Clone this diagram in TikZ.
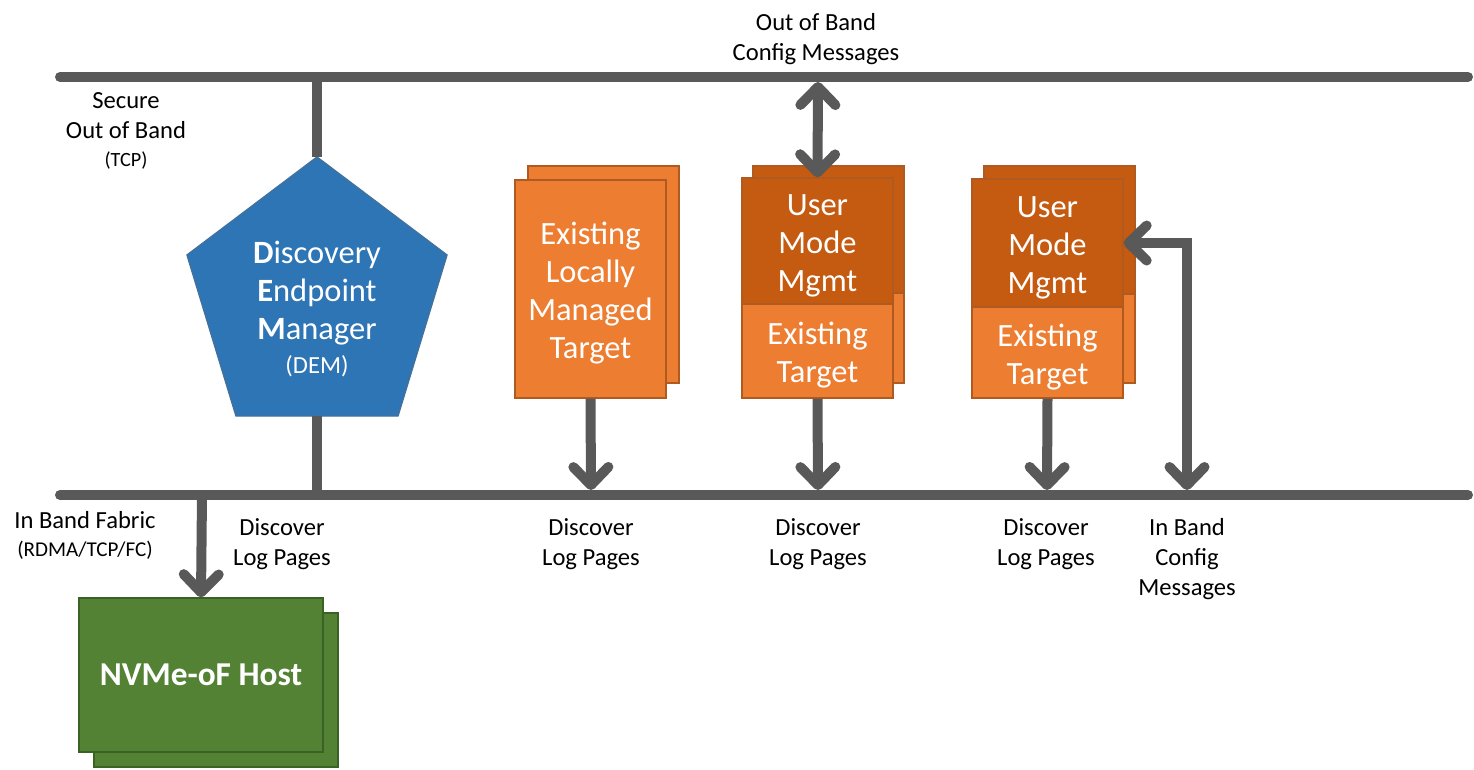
\documentclass[tikz,border=0pt]{standalone}
\usepackage{fontspec}
\setmainfont{Carlito}
\usetikzlibrary{arrows.meta}

\definecolor{busgrey}{HTML}{595959}
\definecolor{demblue}{HTML}{2E75B6}
\definecolor{demline}{HTML}{41719C}
\definecolor{tgtorange}{HTML}{ED7D31}
\definecolor{mgmtorange}{HTML}{C55A11}
\definecolor{tgtline}{HTML}{AE5A21}
\definecolor{hostgreen}{HTML}{548235}
\definecolor{hostline}{HTML}{3B6225}

\newcommand\topgap{\rule{0pt}{17.5pt}}

\tikzset{
  bus/.style={line width=0.2cm, draw=busgrey, line cap=round},
  link/.style={line width=0.2cm, draw=busgrey},
  flow/.style={line width=0.2cm, draw=busgrey, -{Straight Barb[round,length=0.36cm,width=0.7cm]}},
  twoway/.style={line width=0.2cm, draw=busgrey, {Straight Barb[round,length=0.36cm,width=0.7cm]}-{Straight Barb[round,length=0.36cm,width=0.7cm]}},
  tgtbox/.style={draw=tgtline, fill=tgtorange, line width=0.8pt, minimum width=3.02cm, inner sep=0pt,
    text=white, align=center, font=\fontsize{18.5}{21.6}\selectfont},
  mgmtbox/.style={tgtbox, fill=mgmtorange},
  hostbox/.style={draw=hostline, fill=hostgreen, line width=0.8pt, minimum width=4.88cm, minimum height=3.08cm,
    inner sep=0pt, text=white, font=\fontsize{19}{22}\selectfont\bfseries},
  lbl/.style={align=center, inner sep=0pt, font=\fontsize{14}{17}\selectfont},
}

\begin{document}
\begin{tikzpicture}[x=0.02cm,y=-0.02cm]
\useasboundingbox (0,0) rectangle (1474,769);

% buses
\coordinate (oobL) at (60,77);
\coordinate (oobR) at (1468,77);
\coordinate (ibL) at (60,495);
\coordinate (ibR) at (1468,495);
\draw[bus] (oobL) -- (oobR);
\draw[bus] (ibL) -- (ibR);

% discovery endpoint manager
\draw[fill=demblue, draw=demline, line width=0.8pt]
  (317,157) coordinate (demtop) -- (447,255) -- (398,416) -- (317,416) coordinate (dembot)
  -- (236,416) -- (187,255) -- cycle;
\node[align=center, text=white, inner sep=0pt, font=\fontsize{18.5}{21.6}\selectfont] (dem) at (317,309)
  {\textbf{D}iscovery\\\textbf{E}ndpoint\\\textbf{M}anager\\[-2pt]{\fontsize{14}{16}\selectfont (DEM)}};
\draw[link] (317,77) -- (demtop);
\draw[link] (dembot) -- (317,495);

% existing locally managed target
\node[tgtbox, minimum height=4.34cm] (elmt back) at (603.5,274.5) {};
\node[tgtbox, minimum height=4.36cm] (elmt) at (590.5,289) {\topgap Existing\\Locally\\Managed\\Target};

% user mode mgmt targets
\node[tgtbox, minimum height=4.34cm] (tgt2 back) at (828.5,274.5) {};
\node[mgmtbox, minimum height=2.54cm] (umm2 back) at (828.5,229.5) {};
\node[mgmtbox, minimum height=2.52cm] (umm2) at (817.5,241) {\topgap User\\Mode\\Mgmt};
\node[tgtbox, minimum height=1.88cm] (tgt2) at (817.5,351) {\topgap Existing\\Target};

\node[tgtbox, minimum height=4.34cm] (tgt3 back) at (1059.5,274.5) {};
\node[mgmtbox, minimum height=2.56cm] (umm3 back) at (1059.5,230) {};
\node[mgmtbox, minimum height=2.56cm] (umm3) at (1047.5,243) {\topgap User\\Mode\\Mgmt};
\node[tgtbox, minimum height=1.82cm] (tgt3) at (1047.5,352.5) {\topgap Existing\\Target};

% nvme-of host
\node[hostbox] (host back) at (216,690) {};
\node[hostbox] (host) at (201,675) {NVMe-oF Host};

% bus taps
\coordinate (hosttap) at (202,495);
\coordinate (elmttap) at (591,490);
\coordinate (tgt2tap) at (818,490);
\coordinate (tgt3tap) at (1047,490);
\coordinate (cfgtap) at (1187,490);
\coordinate (ooctap) at (818,82);

\draw[flow] (hosttap) -- (host.north);
\draw[flow] (elmt.south) -- (elmttap);
\draw[flow] (tgt2.south) -- (tgt2tap);
\draw[flow] (tgt3.south) -- (tgt3tap);
\draw[twoway] (ooctap) -- (umm2.north);
\draw[twoway] (cfgtap) |- (umm3.east);

% labels
\node[lbl] (ooclbl) at (816,39) {Out of Band\\Config Messages};
\node[lbl] (ooblbl) at (126,131) {Secure\\Out of Band\\[-1pt]{\fontsize{11.5}{13}\selectfont (TCP)}};
\node[lbl] (iblbl) at (85,535) {In Band Fabric\\[-1pt]{\fontsize{12}{13}\selectfont (RDMA/TCP/FC)}};
\node[lbl] (hostlbl) at (282,544) {Discover\\Log Pages};
\node[lbl] (elmtlbl) at (591,544) {Discover\\Log Pages};
\node[lbl] (tgt2lbl) at (818,544) {Discover\\Log Pages};
\node[lbl] (tgt3lbl) at (1046,544) {Discover\\Log Pages};
\node[lbl] (cfglbl) at (1187,559) {In Band\\Config\\Messages};
\end{tikzpicture}
\end{document}
